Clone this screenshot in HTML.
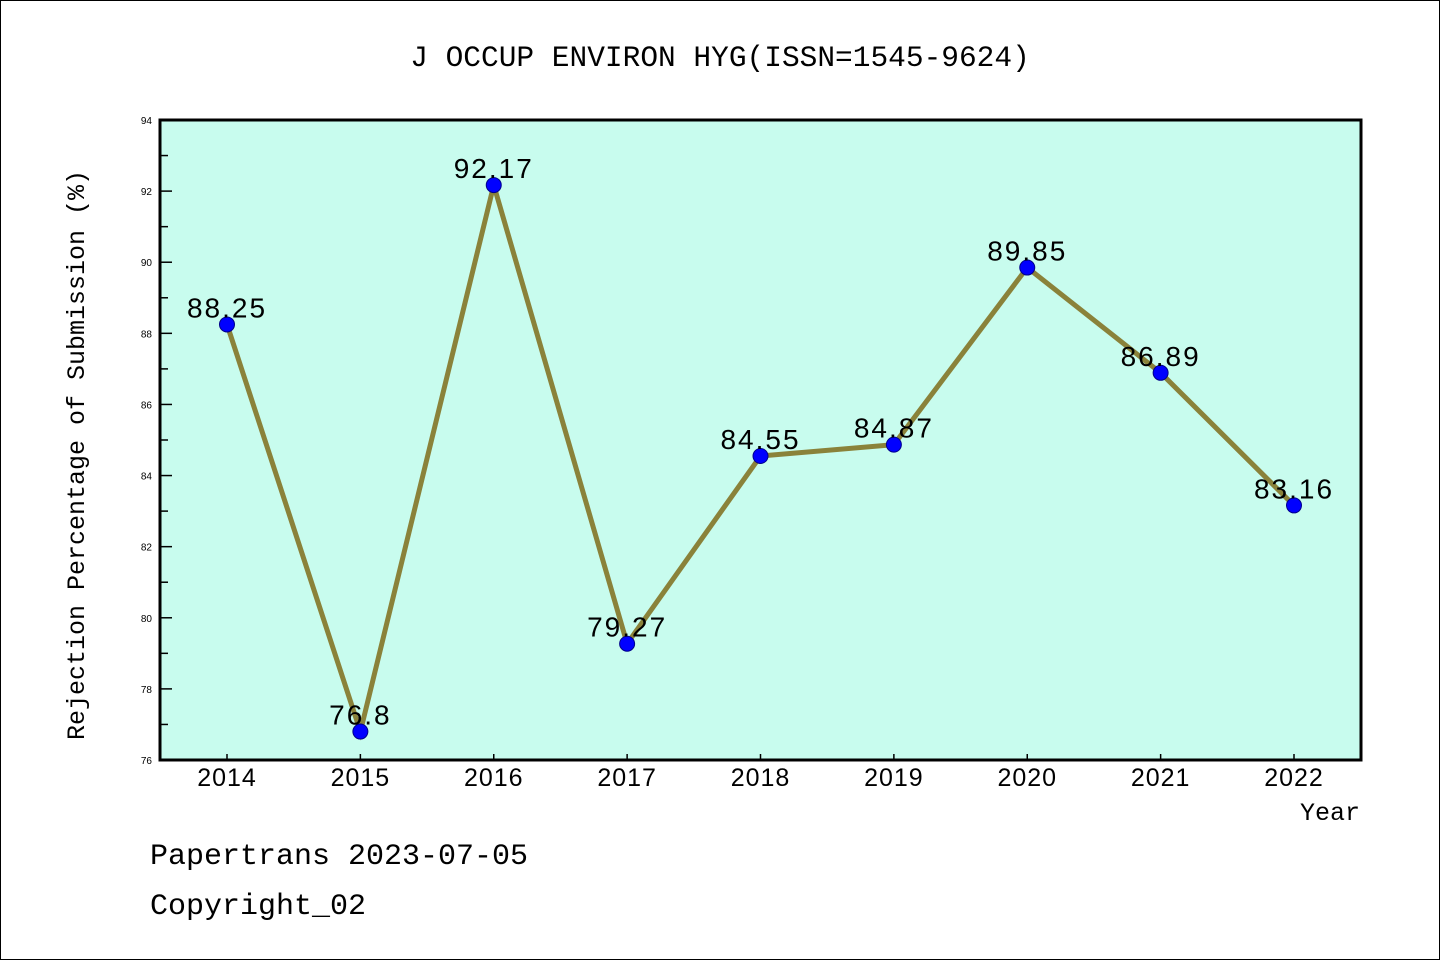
<!DOCTYPE html>
<html><head><meta charset="utf-8"><style>
body{margin:0;background:#fff}
svg{display:block;font-family:"Liberation Mono","WenQuanYi Zen Hei",monospace}
</style></head><body>
<svg id="c" width="1440" height="960" xmlns="http://www.w3.org/2000/svg">
<rect x="0.5" y="0.5" width="1439" height="959" fill="#fff" stroke="#000"/>
<text x="720" y="66" text-anchor="middle" font-size="29.5">J OCCUP ENVIRON HYG(ISSN=1545-9624)</text>
<rect x="160" y="120" width="1201" height="640" fill="#c8fcee"/>
<g id="ax"></g>
<rect x="160" y="120" width="1201" height="640" fill="none" stroke="#000" stroke-width="3"/>
<text transform="translate(84,455) rotate(-90)" text-anchor="middle" font-size="25">Rejection Percentage of Submission (%)</text>
<text x="1360" y="820" text-anchor="end" font-size="25">Year</text>
<text x="150" y="864" font-size="30">Papertrans 2023-07-05</text>
<text x="150" y="914" font-size="30">Copyright_02</text>
</svg>
<script>
const years=["2014","2015","2016","2017","2018","2019","2020","2021","2022"];
const values=[88.25,76.8,92.17,79.27,84.55,84.87,89.85,86.89,83.16];
const labels=["88.25","76.8","92.17","79.27","84.55","84.87","89.85","86.89","83.16"];
const yTicks=[76,78,80,82,84,86,88,90,92,94];
const NS="http://www.w3.org/2000/svg";
const g=document.getElementById('ax');
const X0=227,DX=(1294-227)/8,Y0=760,YMIN=76,YMAX=94,H=640;
const xs=i=>X0+i*DX, ys=v=>Y0-(v-YMIN)/(YMAX-YMIN)*H;
function mk(t,a){const e=document.createElementNS(NS,t);for(const k in a)e.setAttribute(k,a[k]);g.appendChild(e);return e;}
yTicks.forEach((v,i)=>{
 const y=ys(v);
 const t=mk('line',{x1:160,x2:172,y1:y,y2:y,stroke:'#000','stroke-width':1.5});
 
 
 const l=mk('text',{x:152,y:y+4,'text-anchor':'end','font-size':10,'font-family':'Liberation Sans,sans-serif'});l.textContent=v;
 
 
 if(i<yTicks.length-1){const m=ys(v+1);
 const mt=mk('line',{x1:160,x2:168,y1:m,y2:m,stroke:'#000','stroke-width':1.5});
 
 }
});
years.forEach((yr,i)=>{
 const x=xs(i);
 const t=mk('line',{x1:x,x2:x,y1:760,y2:754,stroke:'#000','stroke-width':1.5});
 
 
 const l=mk('text',{x:x,y:786,'text-anchor':'middle','font-size':25,'letter-spacing':1,'font-family':'Liberation Sans,sans-serif'});l.textContent=yr;
 
 
});
const line=mk('polyline',{points:values.map((v,i)=>xs(i)+','+ys(v)).join(' '),fill:'none',stroke:'#8a823a','stroke-width':5,'stroke-linejoin':'miter'});


values.forEach((v,i)=>{
 const c=mk('circle',{cx:xs(i),cy:ys(v),r:7.5,fill:'#0000ff',stroke:'#00008b','stroke-width':1});
 
 
 const l=mk('text',{x:xs(i),y:ys(v)-7,'text-anchor':'middle','font-size':28,'letter-spacing':2,'font-family':'Liberation Sans,sans-serif'});l.textContent=labels[i];
 
 
});
</script>
</body></html>
